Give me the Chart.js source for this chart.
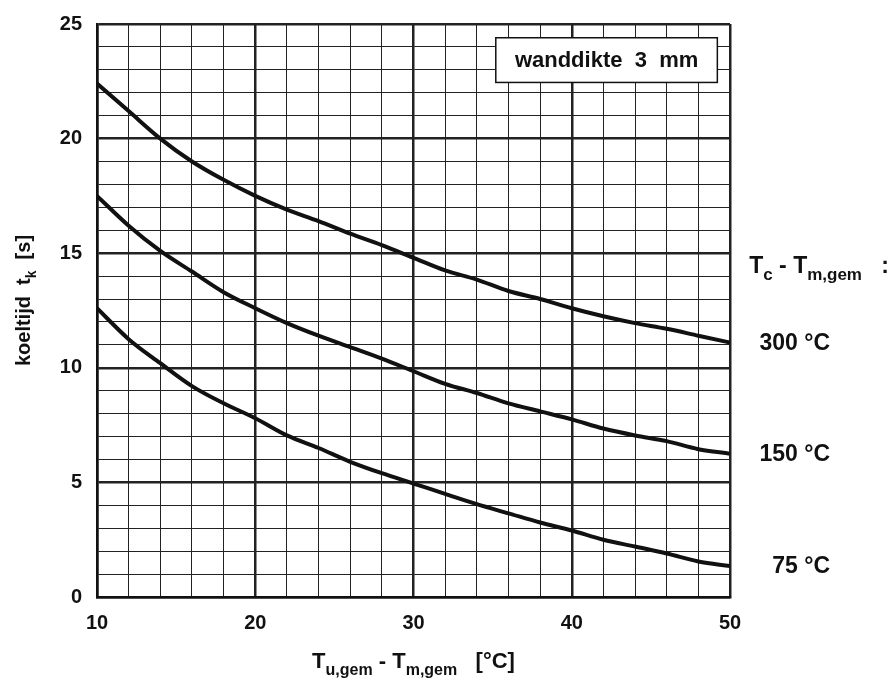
<!DOCTYPE html>
<html>
<head>
<meta charset="utf-8">
<script src="https://cdn.jsdelivr.net/npm/chart.js@4/dist/chart.umd.min.js"></script>
<style>
  html, body { margin: 0; padding: 0; background: #fff; }
  #wrap { width: 893px; height: 686px; }
</style>
</head>
<body>
<div id="wrap"><canvas id="chart"></canvas></div>
<script>
// ============================
// data
// ============================

const xValues = [10, 12, 14, 16, 18, 20, 22, 24, 26, 28, 30, 32, 34, 36, 38, 40, 42, 44, 46, 48, 50];

const curve300 = [22.4, 21.2, 20.0, 19.0, 18.2, 17.5, 16.9, 16.4, 15.85, 15.35, 14.8, 14.25, 13.85, 13.35, 13.0, 12.6, 12.25, 11.95, 11.7, 11.4, 11.1];
const curve150 = [17.5, 16.2, 15.1, 14.2, 13.3, 12.6, 11.95, 11.4, 10.9, 10.4, 9.85, 9.3, 8.9, 8.45, 8.1, 7.75, 7.35, 7.05, 6.8, 6.45, 6.25];
const curve75  = [12.6, 11.25, 10.2, 9.2, 8.45, 7.8, 7.05, 6.5, 5.9, 5.4, 4.95, 4.5, 4.05, 3.65, 3.25, 2.9, 2.5, 2.2, 1.9, 1.55, 1.35];

const curveLabels = ["300 °C", "150 °C", "75 °C"];
const xTickLabels = [10, 20, 30, 40, 50];
const yTickLabels = [0, 5, 10, 15, 20, 25];

const boxText = "wanddikte  3  mm";

const FONT = "'Liberation Sans', Arial, sans-serif";


// ============================
// helpers
// ============================

function toPoints(ys) {
  return xValues.map((x, i) => ({ x: x, y: ys[i] }));
}

// draws text with subscript parts: parts = [[text, isSub], ...]
function drawRich(ctx, parts, x, y, size, weight) {
  const subSize = Math.round(size * 0.72);
  let total = 0;
  parts.forEach(p => {
    ctx.font = weight + " " + (p[1] ? subSize : size) + "px " + FONT;
    total += ctx.measureText(p[0]).width;
  });
  let cx = x - total / 2;
  ctx.textAlign = "left";
  ctx.textBaseline = "alphabetic";
  parts.forEach(p => {
    ctx.font = weight + " " + (p[1] ? subSize : size) + "px " + FONT;
    ctx.fillText(p[0], cx, p[1] ? y + size * 0.3 : y);
    cx += ctx.measureText(p[0]).width;
  });
}


// ============================
// annotation plugin
// ============================

const annotations = {
  id: "annotations",
  afterDraw(chart) {
    const ctx = chart.ctx;
    const xs = chart.scales.x;
    const ys = chart.scales.y;
    const area = chart.chartArea;

    ctx.save();

    // box top right
    const bx = xs.getPixelForValue(35.2), bw = xs.getPixelForValue(49.2) - bx;
    const by = ys.getPixelForValue(24.4), bh = ys.getPixelForValue(22.45) - by;
    ctx.fillStyle = "#fff";
    ctx.fillRect(bx, by, bw, bh);
    ctx.strokeStyle = "#111";
    ctx.lineWidth = 1.5;
    ctx.strokeRect(bx, by, bw, bh);
    ctx.fillStyle = "#111";
    ctx.font = "bold 22px " + FONT;
    ctx.textAlign = "center";
    ctx.textBaseline = "middle";
    ctx.fillText(boxText, bx + bw / 2, by + bh / 2 + 1);

    // right side labels
    const rx = area.right + 22;
    drawRich(ctx, [["T", false], ["c", true], [" - T", false], ["m,gem", true], ["   :", false]],
      rx + 67, ys.getPixelForValue(14.5) + 8, 23, "bold");

    const ends = [curve300, curve150, curve75];
    ctx.font = "bold 23px " + FONT;
    ctx.textAlign = "right";
    ctx.textBaseline = "middle";
    ends.forEach((c, i) => {
      ctx.fillText(curveLabels[i], rx + 78, ys.getPixelForValue(c[c.length - 1]) + 1);
    });

    // x axis title
    drawRich(ctx, [["T", false], ["u,gem", true], [" - T", false], ["m,gem", true], ["   [°C]", false]],
      (area.left + area.right) / 2, 668, 22, "bold");

    // y axis title (rotated)
    ctx.translate(30, (area.top + area.bottom) / 2 - 10);
    ctx.rotate(-Math.PI / 2);
    drawRich(ctx, [["koeltijd  t", false], ["k", true], ["  [s]", false]], 0, 0, 20, "bold");

    ctx.restore();
  }
};


// ============================
// chart
// ============================

const lineStyle = {
  borderColor: "#111",
  borderWidth: 4,
  pointRadius: 0,
  fill: false,
  tension: 0.4,
  cubicInterpolationMode: "monotone"
};

new Chart(document.getElementById("chart"), {
  type: "line",
  data: {
    datasets: [
      Object.assign({ label: curveLabels[0], data: toPoints(curve300) }, lineStyle),
      Object.assign({ label: curveLabels[1], data: toPoints(curve150) }, lineStyle),
      Object.assign({ label: curveLabels[2], data: toPoints(curve75) }, lineStyle)
    ]
  },
  options: {
    responsive: true,
    maintainAspectRatio: false,
    animation: false,
    layout: { padding: { left: 0, top: 24, right: 163, bottom: 0 } },
    plugins: { legend: { display: false }, tooltip: { enabled: false } },
    scales: {
      x: {
        type: "linear",
        min: 10,
        max: 50,
        afterFit(scale) { scale.height = 89; scale.paddingLeft = 0; scale.paddingRight = 0; },
        border: { display: true, color: "#111", width: 2.5 },
        grid: {
          drawTicks: false,
          color: "#222",
          lineWidth: c => (c.tick && c.tick.value % 10 === 0 ? 2.5 : 1)
        },
        ticks: {
          stepSize: 2,
          padding: 14,
          autoSkip: false,
          maxRotation: 0,
          color: "#111",
          font: { family: FONT, size: 20, weight: "bold" },
          callback: v => (xTickLabels.includes(v) ? String(v) : "")
        }
      },
      y: {
        type: "linear",
        min: 0,
        max: 25,
        afterFit(scale) { scale.width = 97; scale.paddingTop = 0; scale.paddingBottom = 0; },
        border: { display: true, color: "#111", width: 2.5 },
        grid: {
          drawTicks: false,
          color: "#222",
          lineWidth: c => (c.tick && c.tick.value % 5 === 0 ? 2.5 : 1)
        },
        ticks: {
          stepSize: 1,
          padding: 15,
          autoSkip: false,
          color: "#111",
          font: { family: FONT, size: 20, weight: "bold" },
          callback: v => (yTickLabels.includes(v) ? String(v) : "")
        }
      }
    }
  },
  plugins: [annotations]
});
</script>
</body>
</html>
